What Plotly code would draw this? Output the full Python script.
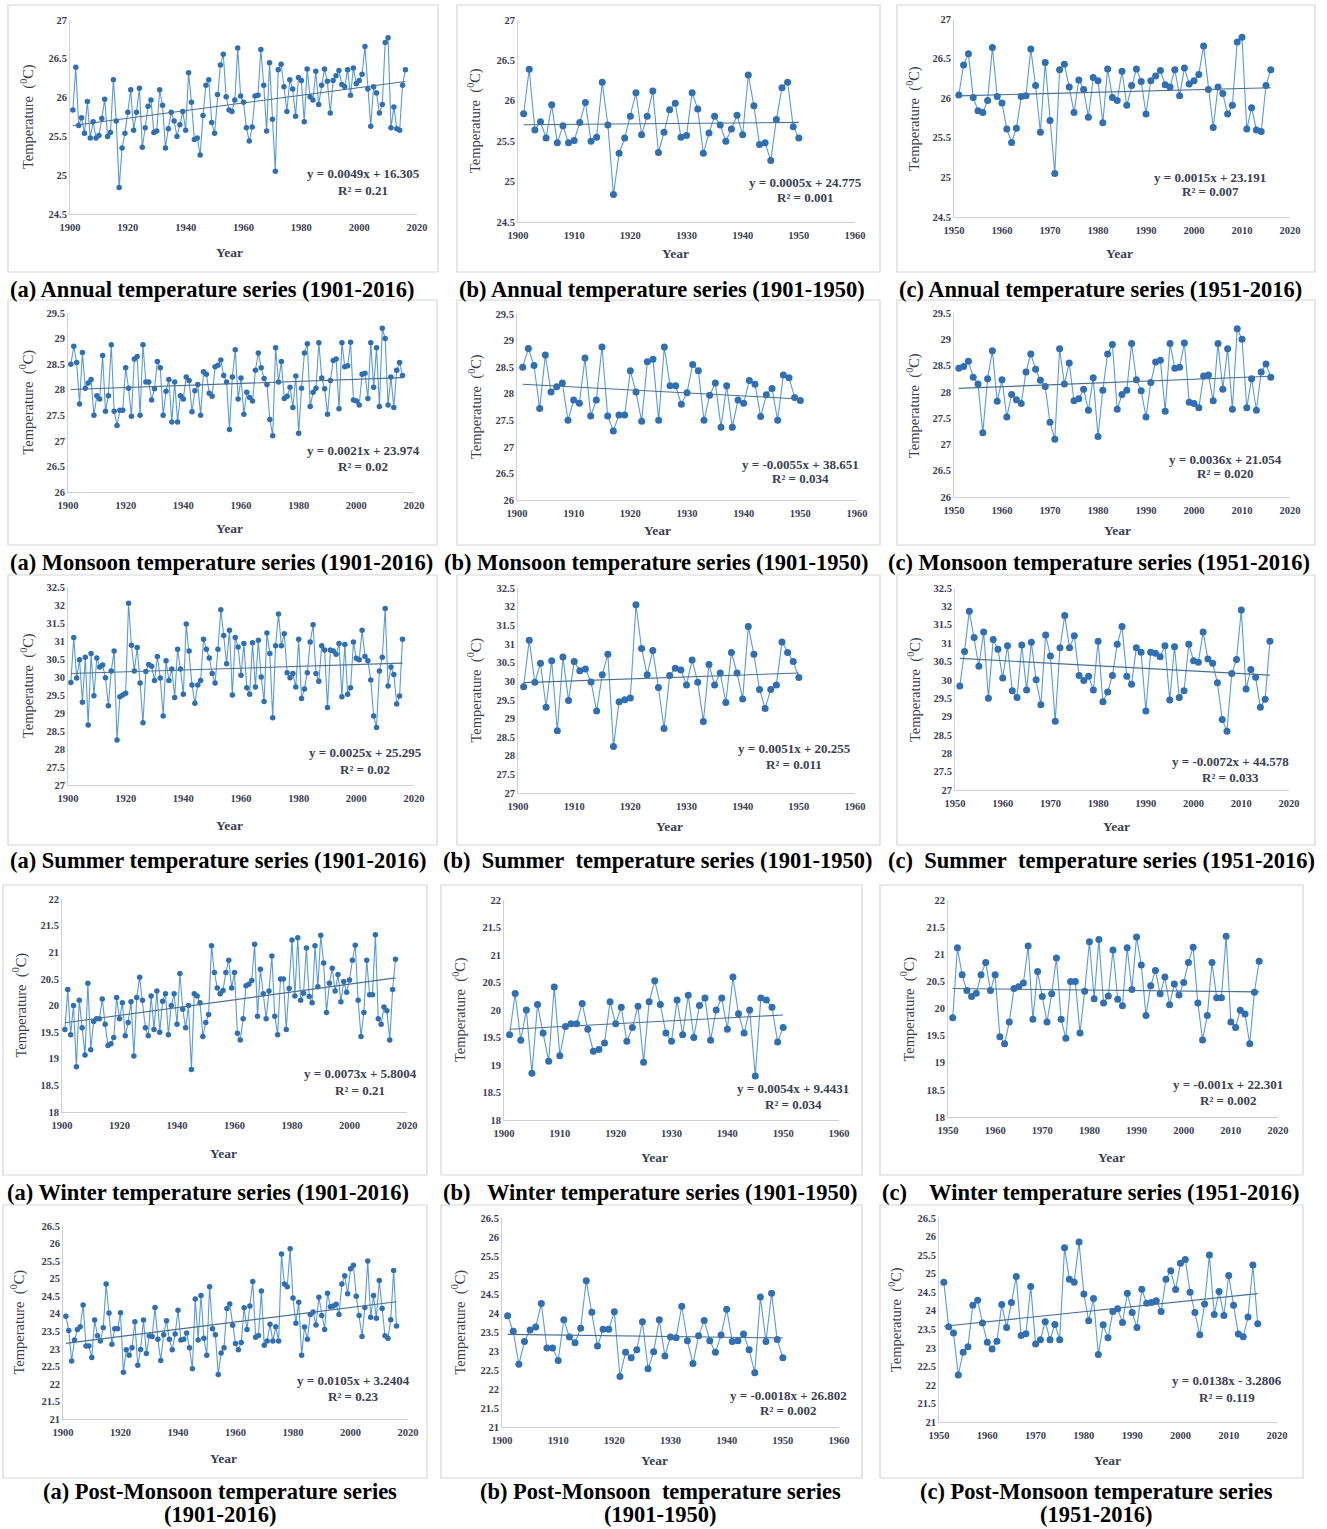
import numpy as np
import plotly.graph_objects as go

W, H = 1327, 1529

# ---------------- data ----------------
years_early = list(range(1901, 1951))
years_late = list(range(1951, 2017))

annual_1901_1950 = [25.84, 26.39, 25.64, 25.74, 25.54, 25.95, 25.48, 25.69, 25.48, 25.51,
                    25.73, 25.98, 25.50, 25.55, 26.23, 25.70, 24.84, 25.35, 25.54, 25.81,
                    26.10, 25.58, 25.81, 26.12, 25.36, 25.61, 25.89, 25.97, 25.55, 25.57,
                    26.10, 25.90, 25.35, 25.60, 25.81, 25.70, 25.50, 25.65, 25.82, 25.58,
                    26.32, 25.94, 25.46, 25.48, 25.26, 25.77, 26.16, 26.23, 25.68, 25.54]
annual_1951_2016 = [26.04, 26.42, 26.56, 26.01, 25.84, 25.82, 25.97, 26.64, 26.02, 25.94,
                    25.61, 25.44, 25.62, 26.02, 26.03, 26.62, 26.16, 25.57, 26.45, 25.72,
                    25.05, 26.36, 26.43, 26.14, 25.82, 26.23, 26.11, 25.76, 26.26, 26.22,
                    25.69, 26.37, 26.01, 25.97, 26.34, 25.91, 26.16, 26.37, 26.21, 25.80,
                    26.22, 26.28, 26.35, 26.17, 26.14, 26.36, 26.03, 26.38, 26.18, 26.22,
                    26.30, 26.66, 26.11, 25.63, 26.14, 26.06, 25.80, 25.91, 26.71, 26.77,
                    25.61, 25.88, 25.60, 25.58, 26.16, 26.36]

monsoon_1901_1950 = [28.50, 28.85, 28.53, 27.72, 28.73, 28.03, 28.13, 28.20, 27.50, 27.88,
                     27.82, 28.67, 27.58, 27.88, 28.88, 27.58, 27.30, 27.60, 27.60, 28.43,
                     28.03, 27.48, 28.60, 28.65, 27.50, 28.88, 28.15, 28.15, 27.80, 28.02,
                     28.55, 28.43, 27.50, 27.97, 28.20, 27.37, 28.15, 27.37, 27.88, 27.82,
                     28.25, 28.18, 27.57, 27.98, 28.10, 27.50, 28.35, 28.30, 27.93, 27.87]
monsoon_1951_2016 = [28.45, 28.48, 28.58, 28.28, 28.15, 27.22, 28.25, 28.78, 27.82, 28.23,
                     27.52, 27.95, 27.85, 27.78, 28.38, 28.72, 28.43, 28.22, 28.10, 27.42,
                     27.10, 28.82, 28.15, 28.55, 27.83, 27.87, 28.05, 27.65, 28.27, 27.15,
                     28.03, 28.72, 28.90, 27.67, 27.95, 28.03, 28.92, 28.23, 28.02, 27.52,
                     28.18, 28.57, 28.60, 27.63, 28.92, 28.45, 28.47, 28.93, 27.80, 27.78,
                     27.70, 28.30, 28.32, 27.83, 28.92, 28.05, 28.82, 27.67, 29.20, 29.00,
                     27.70, 28.25, 27.65, 28.38, 28.53, 28.28]

summer_1901_1950 = [29.85, 31.10, 29.97, 30.48, 29.30, 30.55, 28.67, 30.65, 29.48, 30.53,
                    30.28, 30.33, 29.98, 29.20, 30.17, 30.72, 28.25, 29.45, 29.50, 29.55,
                    32.05, 30.88, 30.17, 30.82, 29.83, 28.73, 30.15, 30.35, 30.30, 29.90,
                    30.57, 29.97, 28.92, 30.45, 29.90, 30.22, 29.43, 30.77, 30.22, 29.52,
                    31.47, 30.72, 29.78, 29.27, 29.78, 29.90, 31.05, 30.77, 30.53, 30.10]
summer_1951_2016 = [29.83, 30.77, 31.87, 31.15, 30.37, 31.30, 29.50, 31.10, 30.83, 30.05,
                    30.93, 29.70, 29.52, 30.95, 29.72, 31.02, 30.00, 29.32, 31.22, 30.65,
                    28.87, 30.87, 31.75, 30.87, 31.20, 30.12, 29.98, 30.10, 29.72, 31.05,
                    29.40, 29.67, 30.12, 30.97, 31.45, 30.10, 29.88, 30.87, 30.75, 29.15,
                    30.75, 30.72, 30.63, 30.93, 29.45, 30.90, 29.52, 29.70, 30.97, 30.52,
                    30.48, 31.30, 30.57, 30.45, 29.92, 28.92, 28.60, 30.17, 30.55, 31.90,
                    29.75, 30.28, 30.07, 29.25, 29.47, 31.05]

winter_1901_1950 = [19.55, 20.30, 19.45, 20.00, 18.85, 20.10, 19.58, 19.07, 20.42, 19.17,
                    19.70, 19.75, 19.75, 20.12, 19.65, 19.25, 19.28, 19.40, 20.15, 19.75,
                    20.05, 19.43, 19.68, 20.07, 19.05, 20.15, 20.53, 20.10, 19.58, 19.43,
                    20.18, 19.55, 20.27, 19.50, 20.08, 20.22, 19.45, 20.00, 20.22, 19.65,
                    20.60, 19.93, 19.58, 20.00, 18.80, 20.22, 20.18, 20.05, 19.42, 19.68]
winter_1951_2016 = [19.83, 21.12, 20.62, 20.33, 20.22, 20.28, 20.62, 20.85, 20.33, 20.62,
                    19.48, 19.35, 19.75, 20.37, 20.40, 20.47, 21.15, 19.80, 20.68, 20.22,
                    19.75, 20.27, 20.93, 19.80, 19.45, 20.50, 20.50, 19.55, 20.32, 21.23,
                    20.18, 21.27, 20.10, 20.23, 21.08, 20.17, 20.05, 21.12, 20.35, 21.32,
                    20.80, 19.87, 20.42, 20.70, 20.27, 20.58, 20.07, 20.45, 20.25, 20.48,
                    20.85, 21.13, 20.10, 19.42, 19.87, 20.85, 20.20, 20.20, 21.33, 19.75,
                    19.65, 19.97, 19.90, 19.35, 20.30, 20.87]

postmonsoon_1901_1950 = [23.93, 23.52, 22.65, 23.25, 23.55, 23.63, 24.25, 23.08, 23.08, 22.75,
                         23.82, 23.37, 23.22, 23.60, 24.85, 24.02, 23.13, 23.57, 23.57, 24.03,
                         22.33, 22.97, 22.82, 23.03, 23.77, 22.53, 22.98, 23.82, 22.87, 23.37,
                         23.35, 24.18, 23.27, 22.67, 23.40, 23.80, 23.27, 22.97, 23.42, 24.10,
                         23.25, 23.27, 23.45, 23.03, 22.43, 24.42, 23.25, 24.52, 23.30, 22.82]
postmonsoon_1951_2016 = [24.77, 23.57, 23.40, 22.27, 22.88, 23.03, 24.15, 24.28, 23.67, 23.15,
                         22.97, 23.18, 24.17, 23.55, 24.22, 24.92, 23.33, 23.38, 24.65, 23.10,
                         23.22, 23.70, 23.22, 23.63, 23.22, 25.70, 24.85, 24.77, 25.85, 24.45,
                         23.73, 24.33, 22.82, 23.62, 23.27, 23.98, 24.05, 23.68, 24.47, 23.95,
                         23.55, 24.58, 24.20, 24.22, 24.27, 23.98, 24.85, 25.08, 24.57, 25.28,
                         25.38, 24.50, 23.95, 23.35, 24.18, 25.50, 23.90, 24.52, 23.87, 24.95,
                         24.15, 23.37, 23.30, 23.83, 25.23, 23.65]

season_names = ["Annual", "Monsoon", "Summer", "Winter", "Post-Monsoon"]
series_early = [annual_1901_1950, monsoon_1901_1950, summer_1901_1950,
                winter_1901_1950, postmonsoon_1901_1950]
series_late = [annual_1951_2016, monsoon_1951_2016, summer_1951_2016,
               winter_1951_2016, postmonsoon_1951_2016]

y_ranges = [[24.5, 27], [26, 29.5], [27, 32.5], [18, 22], [21, 26.5]]
x_ranges = [[1900, 2020], [1900, 1960], [1950, 2020]]
x_dticks = [20, 10, 10]

equations = [
    ["y = 0.0049x + 16.305", "y = 0.0005x + 24.775", "y = 0.0015x + 23.191"],
    ["y = 0.0021x + 23.974", "y = -0.0055x + 38.651", "y = 0.0036x + 21.054"],
    ["y = 0.0025x + 25.295", "y = 0.0051x + 20.255", "y = -0.0072x + 44.578"],
    ["y = 0.0073x + 5.8004", "y = 0.0054x + 9.4431", "y = -0.001x + 22.301"],
    ["y = 0.0105x + 3.2404", "y = -0.0018x + 26.802", "y = 0.0138x - 3.2806"],
]
r_squared = [
    ["R² = 0.21", "R² = 0.001", "R² = 0.007"],
    ["R² = 0.02", "R² = 0.034", "R² = 0.020"],
    ["R² = 0.02", "R² = 0.011", "R² = 0.033"],
    ["R² = 0.21", "R² = 0.034", "R² = 0.002"],
    ["R² = 0.23", "R² = 0.002", "R² = 0.119"],
]

NB = "\u00a0"
captions = [
    [["(a) Annual temperature series (1901-2016)"],
     ["(b) Annual temperature series (1901-1950)"],
     ["(c) Annual temperature series (1951-2016)"]],
    [["(a) Monsoon temperature series (1901-2016)"],
     ["(b) Monsoon temperature series (1901-1950)"],
     ["(c) Monsoon temperature series (1951-2016)"]],
    [["(a) Summer temperature series (1901-2016)"],
     ["(b)" + NB + " Summer" + NB + " temperature series (1901-1950)"],
     ["(c)" + NB + " Summer" + NB + " temperature series (1951-2016)"]],
    [["(a) Winter temperature series (1901-2016)"],
     ["(b)" + NB + NB + " Winter temperature series (1901-1950)"],
     ["(c)" + NB + NB + NB + " Winter temperature series (1951-2016)"]],
    [["(a) Post-Monsoon temperature series", "(1901-2016)"],
     ["(b) Post-Monsoon" + NB + " temperature series", "(1901-1950)"],
     ["(c) Post-Monsoon temperature series", "(1951-2016)"]],
]

# ---------------- layout geometry (pixels) ----------------
plot_px = [
    [(70, 417, 20, 214), (518, 855, 20, 222), (954, 1290, 19, 217)],
    [(68, 414, 313, 492), (517, 857, 314, 500), (954, 1290, 313, 497)],
    [(68, 414, 587, 785), (518, 855, 588, 793), (955, 1289, 588, 790)],
    [(62, 407, 899, 1112), (504, 839, 900, 1120), (948, 1278, 900, 1117)],
    [(63, 408, 1226, 1419), (502, 839, 1218, 1427), (939, 1277, 1218, 1422)],
]
box_px = [
    [(8, 438, 5, 272), (457, 880, 5, 272), (897, 1315, 5, 272)],
    [(8, 437, 300, 545), (457, 880, 300, 545), (897, 1315, 300, 545)],
    [(8, 437, 575, 845), (457, 880, 575, 845), (897, 1315, 575, 845)],
    [(3, 427, 885, 1175), (441, 862, 885, 1175), (880, 1303, 885, 1175)],
    [(3, 427, 1205, 1478), (441, 862, 1205, 1478), (880, 1303, 1205, 1478)],
]
temp_title_x = [[27, 475, 914], [27, 475, 914], [27, 475, 914], [20, 459, 908], [18, 459, 895]]
year_title = [[(230, 253), (675, 254), (1119, 254)],
              [(230, 528), (657, 530), (1117, 530)],
              [(230, 825), (670, 827), (1116, 827)],
              [(224, 1153), (654, 1157), (1111, 1157)],
              [(223, 1458), (654, 1460), (1107, 1460)]]
eq_pos = [[(363, 174, 191), (805, 183, 198), (1210, 177, 192)],
          [(363, 450, 466), (800, 465, 478), (1225, 459, 473)],
          [(365, 752, 769), (794, 748, 764), (1230, 761, 777)],
          [(360, 1073, 1090), (793, 1088, 1104), (1228, 1084, 1100)],
          [(353, 1380, 1396), (788, 1395, 1410), (1227, 1380, 1397)]]
caption_pos = [[(8, 289), (457, 289), (897, 289)],
               [(8, 562), (442, 562), (886, 562)],
               [(8, 860), (441, 860), (886, 860)],
               [(5, 1192), (441, 1192), (880, 1192)],
               [(220, 1491), (660, 1491), (1096, 1491)]]
caption_line2_y = 1514

SERIF = "Liberation Serif, Times New Roman, serif"
TXT = "#3a4052"
LINE_C = "#5b9bd5"
MARK_C = "#2e6fb5"
TREND_C = "#4a6f96"

def px_x(p):
    return p / W

def px_y(p):
    return 1 - p / H

fig = go.Figure()
annotations = []
shapes = []

k = 0
for r in range(5):
    full = series_early[r] + series_late[r]
    segs = [(years_early + years_late, full), (years_early, series_early[r]),
            (years_late, series_late[r])]
    for c in range(3):
        k += 1
        xs, ys = segs[c]
        xa = "x" if k == 1 else f"x{k}"
        ya = "y" if k == 1 else f"y{k}"
        msize = 5.5 if c == 0 else 7
        fig.add_trace(go.Scatter(x=xs, y=ys, mode="lines+markers", xaxis=xa, yaxis=ya,
                                 line=dict(color=LINE_C, width=1.1),
                                 marker=dict(color=MARK_C, size=msize, line=dict(width=0)),
                                 cliponaxis=False, showlegend=False, hoverinfo="skip"))
        coef = np.polyfit(np.array(xs, float), np.array(ys, float), 1)
        tx = np.array([xs[0], xs[-1]], float)
        fig.add_trace(go.Scatter(x=tx, y=np.polyval(coef, tx), mode="lines", xaxis=xa, yaxis=ya,
                                 line=dict(color=TREND_C, width=1.1), showlegend=False,
                                 hoverinfo="skip"))
        x0, x1, yt, yb = plot_px[r][c]
        axis_common = dict(showgrid=False, zeroline=False, showline=True, linecolor="#d0d0d0",
                           linewidth=1, ticks="", automargin=False,
                           tickfont=dict(family=SERIF, size=10.5, color=TXT, weight="bold"))
        fig.layout[("xaxis" if k == 1 else f"xaxis{k}")] = dict(
            domain=[px_x(x0), px_x(x1)], range=x_ranges[c], anchor=ya,
            tickmode="linear", tick0=x_ranges[c][0], dtick=x_dticks[c],
            ticklabelstandoff=3, **axis_common)
        fig.layout[("yaxis" if k == 1 else f"yaxis{k}")] = dict(
            domain=[px_y(yb), px_y(yt)], range=y_ranges[r], anchor=xa,
            tickmode="linear", tick0=y_ranges[r][0], dtick=0.5, **axis_common)

        bx0, bx1, by0, by1 = box_px[r][c]
        shapes.append(dict(type="rect", xref="paper", yref="paper",
                           x0=px_x(bx0), x1=px_x(bx1), y0=px_y(by1), y1=px_y(by0),
                           line=dict(color="#d6d6d6", width=1.2), layer="below"))
        annotations.append(dict(text="Temperature" + NB + NB + "(<sup>0</sup>C)", textangle=-90,
                                x=px_x(temp_title_x[r][c]), y=px_y((yt + yb) / 2),
                                xref="paper", yref="paper", showarrow=False,
                                xanchor="center", yanchor="middle",
                                font=dict(family=SERIF, size=14.5, color=TXT)))
        yx, yy = year_title[r][c]
        annotations.append(dict(text="Year", x=px_x(yx), y=px_y(yy), xref="paper", yref="paper",
                                showarrow=False, xanchor="center", yanchor="middle",
                                font=dict(family=SERIF, size=13.5, color=TXT, weight="bold")))
        ex, ey1, ey2 = eq_pos[r][c]
        annotations.append(dict(text=equations[r][c], x=px_x(ex), y=px_y(ey1), xref="paper",
                                yref="paper", showarrow=False, xanchor="center", yanchor="middle",
                                font=dict(family=SERIF, size=13, color=TXT, weight="bold")))
        annotations.append(dict(text=r_squared[r][c], x=px_x(ex), y=px_y(ey2), xref="paper",
                                yref="paper", showarrow=False, xanchor="center", yanchor="middle",
                                font=dict(family=SERIF, size=13, color=TXT, weight="bold")))
        cx, cy = caption_pos[r][c]
        lines = captions[r][c]
        for li, line_text in enumerate(lines):
            annotations.append(dict(text=line_text, x=px_x(cx),
                                    y=px_y(cy if li == 0 else caption_line2_y),
                                    xref="paper", yref="paper", showarrow=False,
                                    xanchor="center" if r == 4 else "left", yanchor="middle",
                                    font=dict(family=SERIF, size=22.5, color="black",
                                              weight="bold")))

fig.update_layout(width=W, height=H, autosize=False,
                  margin=dict(l=0, r=0, t=0, b=0, pad=0),
                  paper_bgcolor="white", plot_bgcolor="white",
                  annotations=annotations, shapes=shapes)

fig.write_html("out.html", config={"displayModeBar": False},
               post_script="document.body.style.margin='0';document.body.style.overflow='hidden';")
